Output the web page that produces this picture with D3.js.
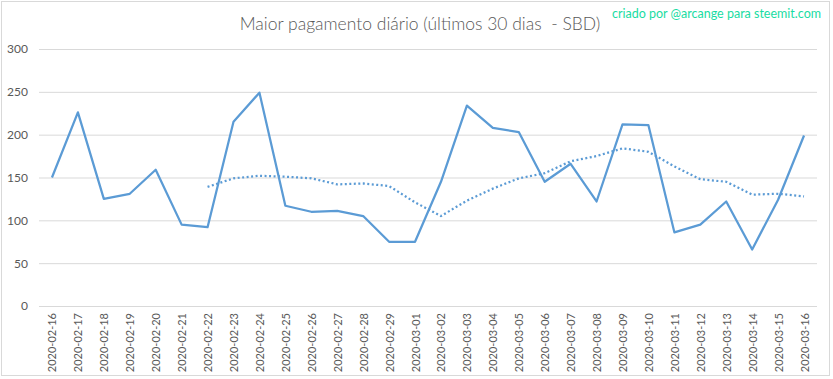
<!DOCTYPE html>
<html>
<head>
<meta charset="utf-8">
<script src="https://cdn.jsdelivr.net/npm/d3@7"></script>
<style>
  html, body { margin: 0; padding: 0; background: #fff; }
  svg { display: block; }
</style>
</head>
<body>
<svg id="chart" width="833" height="379"></svg>
<script>
const dates = ["2020-02-16","2020-02-17","2020-02-18","2020-02-19","2020-02-20","2020-02-21","2020-02-22","2020-02-23","2020-02-24","2020-02-25","2020-02-26","2020-02-27","2020-02-28","2020-02-29","2020-03-01","2020-03-02","2020-03-03","2020-03-04","2020-03-05","2020-03-06","2020-03-07","2020-03-08","2020-03-09","2020-03-10","2020-03-11","2020-03-12","2020-03-13","2020-03-14","2020-03-15","2020-03-16"];
const maxPayout = [150,226,125,131,159,95,92,215,249,117,110,111,105,75,75,145,234,208,203,145,166,122,212,211,86,95,122,66,124,199];
const movingAvg = [null,null,null,null,null,null,139,149,152,151,149,142,143,140,121,105,123,137,149,155,169,175,184,180,163,148,145,130,131,128];
const yTicks = [0,50,100,150,200,250,300];
const titleText = "Maior pagamento diário (últimos 30 dias  - SBD)";
const creditText = "criado por @arcange para steemit.com";

const svg = d3.select("#chart");
const W = 833, H = 379;
const margin = {left: 39, right: 16, top: 49, bottom: 73};

svg.append("rect").attr("x", 1.5).attr("y", 1.5).attr("width", 828).attr("height", 374)
  .attr("fill", "#fff").attr("stroke", "#D9D9D9").attr("stroke-width", 1);

const x = d3.scalePoint().domain(dates).range([margin.left, W - margin.right]).padding(0.5);
const y = d3.scaleLinear().domain([0, 300]).range([H - margin.bottom, margin.top]);

// gridlines
const yAxis = d3.axisLeft(y).tickValues(yTicks).tickSize(-(W - margin.right - margin.left)).tickPadding(11);
const gy = svg.append("g").attr("transform", `translate(${margin.left},0)`).call(yAxis);
gy.select(".domain").remove();
gy.selectAll(".tick line").attr("stroke", "#D9D9D9").attr("stroke-width", 1);
gy.selectAll(".tick text").attr("fill", "#595959").attr("font-family", "Lato, 'Open Sans', sans-serif").attr("font-size", 12);

// x axis labels
const xAxis = d3.axisBottom(x).tickSize(0).tickPadding(0);
const gx = svg.append("g").attr("transform", `translate(0,${H - margin.bottom})`).call(xAxis);
gx.select(".domain").remove();
gx.selectAll(".tick text")
  .attr("fill", "#595959").attr("font-family", "Lato, 'Open Sans', sans-serif").attr("font-size", 11)
  .attr("text-anchor", "end").attr("dy", null)
  .attr("transform", "translate(4,7) rotate(-90)");

// lines
const line = d3.line().defined(d => d[1] != null).x(d => x(d[0])).y(d => y(d[1]));
svg.append("path").datum(dates.map((d, i) => [d, maxPayout[i]]))
  .attr("d", line).attr("fill", "none").attr("stroke", "#5B9BD5").attr("stroke-width", 2.25)
  .attr("stroke-linejoin", "round");
svg.append("path").datum(dates.map((d, i) => [d, movingAvg[i]]))
  .attr("d", line).attr("fill", "none").attr("stroke", "#5B9BD5").attr("stroke-width", 2.25)
  .attr("stroke-dasharray", "2 2.5");

// title
svg.append("text").attr("x", 420).attr("y", 30).attr("text-anchor", "middle")
  .attr("fill", "#595959").attr("font-family", "Lato, 'Open Sans', sans-serif").attr("font-weight", 300)
  .attr("font-size", 17.5).style("white-space", "pre").attr("xml:space", "preserve").text(titleText);

svg.append("text").attr("x", 821).attr("y", 18).attr("text-anchor", "end")
  .attr("fill", "#19DCA2").attr("font-family", "Lato, 'Open Sans', sans-serif")
  .attr("font-size", 12.5).text(creditText);
</script>
</body>
</html>
